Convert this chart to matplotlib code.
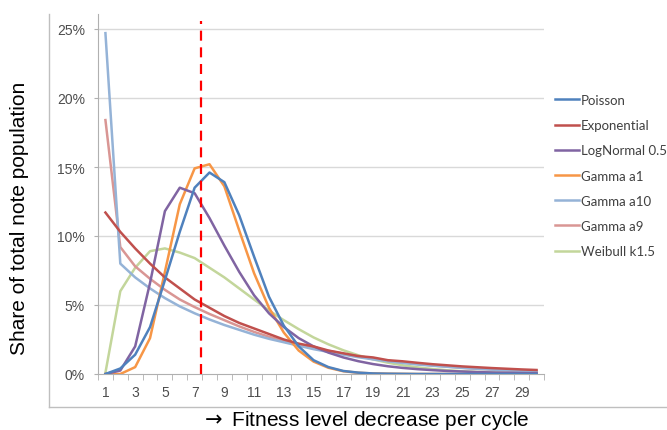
import matplotlib
matplotlib.use("Agg")
import matplotlib.pyplot as plt
from matplotlib.lines import Line2D
import numpy as np

plt.rcParams["mathtext.fontset"] = "dejavusans"

categories = list(range(1, 31))
tick_labels = [str(c) if c % 2 == 1 else "" for c in categories]

poisson = [0.0, 0.4, 1.4, 3.4, 6.8, 10.3, 13.5, 14.6, 13.9, 11.5, 8.5, 5.6, 3.5, 2.0, 1.0,
           0.5, 0.22, 0.1, 0.04, 0.02, 0.01, 0, 0, 0, 0, 0, 0, 0, 0, 0]
exponential = [11.7, 10.3, 9.1, 8.0, 7.0, 6.2, 5.4, 4.8, 4.2, 3.7, 3.3, 2.9, 2.5, 2.2, 2.0,
               1.7, 1.5, 1.3, 1.2, 1.0, 0.92, 0.81, 0.71, 0.63, 0.55, 0.49, 0.43, 0.38, 0.33, 0.29]
lognormal = [0.0, 0.25, 2.0, 6.6, 11.8, 13.5, 13.1, 11.3, 9.3, 7.4, 5.7, 4.4, 3.4, 2.6, 2.0,
             1.55, 1.2, 0.93, 0.72, 0.56, 0.44, 0.35, 0.28, 0.22, 0.18, 0.14, 0.11, 0.09, 0.07, 0.06]
gamma_a1 = [0.0, 0.0, 0.5, 2.6, 7.4, 12.3, 14.9, 15.2, 13.6, 10.4, 7.3, 4.8, 3.0, 1.7, 0.9,
            0.45, 0.2, 0.09, 0.04, 0.02, 0.01, 0, 0, 0, 0, 0, 0, 0, 0, 0]
gamma_a10 = [24.7, 8.0, 7.0, 6.2, 5.5, 4.9, 4.4, 3.95, 3.55, 3.2, 2.85, 2.55, 2.3, 2.05, 1.8,
             1.6, 1.4, 1.22, 1.06, 0.92, 0.8, 0.69, 0.6, 0.52, 0.44, 0.38, 0.32, 0.27, 0.22, 0.18]
gamma_a9 = [18.4, 9.2, 7.8, 6.9, 6.1, 5.4, 4.85, 4.35, 3.9, 3.45, 3.05, 2.7, 2.4, 2.15, 1.9,
            1.68, 1.47, 1.28, 1.11, 0.96, 0.83, 0.72, 0.62, 0.53, 0.45, 0.38, 0.32, 0.27, 0.22, 0.18]
weibull = [0.1, 6.0, 7.7, 8.9, 9.1, 8.8, 8.4, 7.7, 7.0, 6.2, 5.4, 4.6, 3.9, 3.25, 2.65,
           2.15, 1.72, 1.36, 1.06, 0.82, 0.63, 0.48, 0.36, 0.27, 0.2, 0.15, 0.11, 0.08, 0.06, 0.04]

series_names = ["Poisson", "Exponential", "LogNormal 0.5", "Gamma a1",
                "Gamma a10", "Gamma a9", "Weibull k1.5"]
series_values = [poisson, exponential, lognormal, gamma_a1, gamma_a10, gamma_a9, weibull]
series_colors = ["#4F81BD", "#C0504D", "#8064A2", "#F79646", "#95B3D7", "#D99694", "#C3D69B"]

y_ticks = [0, 5, 10, 15, 20, 25]
y_tick_labels = ["0%", "5%", "10%", "15%", "20%", "25%"]
marker_x = 7.4
marker_top = 25.6

W, H = 667, 431
fig = plt.figure(figsize=(W / 100, H / 100), dpi=100)
fig.patch.set_facecolor("white")

left, right, bottom, top = 98, 544, 375, 15
ax = fig.add_axes([left / W, 1 - bottom / H, (right - left) / W, (bottom - top) / H])
ax.set_xlim(0.5, 30.5)
ax.set_ylim(0, (bottom - top) / 13.8)

for yv in y_ticks[1:]:
    ax.axhline(yv, color="#D9D9D9", lw=1.0, zorder=0)

draw_order = [6, 5, 4, 1, 2, 3, 0]
lines = {}
for i in draw_order:
    ln, = ax.plot(categories, series_values[i], color=series_colors[i], lw=1.8,
                  solid_joinstyle="round", zorder=2 + (0.1 * (7 - i)))
    lines[i] = ln

ax.plot([marker_x, marker_x], [0, marker_top], color="#FF0000", lw=1.6,
        dashes=(4.5, 3), clip_on=False, zorder=5)

for s in ["top", "right"]:
    ax.spines[s].set_visible(False)
ax.spines["left"].set_color("#B0B0B0")
ax.spines["bottom"].set_color("#B0B0B0")

ax.set_yticks(y_ticks)
ax.set_yticklabels(y_tick_labels)
ax.set_xticks(categories)
ax.set_xticklabels(tick_labels)
ax.set_xticks(np.arange(0.5, 31, 1.0), minor=True)
ax.tick_params(axis="x", which="major", length=0, pad=8)
ax.tick_params(axis="x", which="minor", length=4, color="#B0B0B0", direction="out")
ax.tick_params(axis="y", length=3, color="#B0B0B0", pad=6.5)
for lab in ax.get_xticklabels() + ax.get_yticklabels():
    lab.set_fontfamily("Liberation Sans")
    lab.set_fontsize(10)
    lab.set_color("#4D4D4D")

fig.text(20 / W, 1 - 218 / H, "Share of total note population", rotation=90,
         ha="center", va="center", fontsize=15, family=["Liberation Sans", "DejaVu Sans"])
fig.text(365 / W, 1 - 421 / H, "$\\rightarrow$ Fitness level decrease per cycle",
         ha="center", va="center", fontsize=15, family=["Liberation Sans", "DejaVu Sans"])

fig.add_artist(Line2D([49 / W, 49 / W], [1 - 15 / H, 1 - 408 / H], color="#BFBFBF", lw=1.0))
fig.add_artist(Line2D([49 / W, 1.0], [1 - 408 / H, 1 - 408 / H], color="#BFBFBF", lw=1.0))

handles = [lines[i] for i in range(7)]
leg = fig.legend(handles, series_names, loc="upper left",
                 bbox_to_anchor=(555 / W, 1 - 95 / H), frameon=False,
                 borderpad=0, borderaxespad=0, handlelength=1.8, handletextpad=0.15,
                 labelspacing=1.0, prop={"family": "Lato", "size": 9.5})
for t in leg.get_texts():
    t.set_color("#404040")

fig.savefig("out.png", dpi=100)
